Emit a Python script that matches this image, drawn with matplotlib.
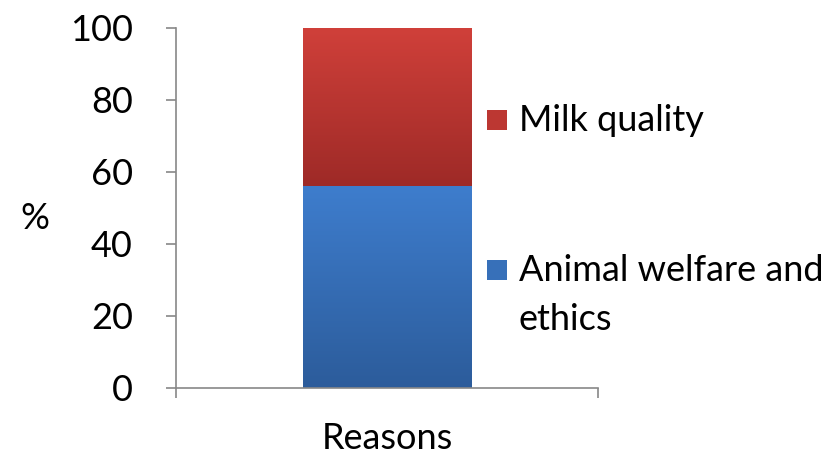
import matplotlib
matplotlib.use("Agg")
import matplotlib.pyplot as plt
import numpy as np
from matplotlib.colors import LinearSegmentedColormap
from matplotlib.patches import Rectangle

plt.rcParams["font.family"] = ["Lato", "DejaVu Sans"]

# data
categories = ["Reasons"]
series_names = ["Animal welfare and\nethics", "Milk quality"]
series_values = [[56], [44]]
# gradient colours (top, bottom) for each series
series_colours = [("#3e7dcd", "#2c5c9b"), ("#d0403a", "#9e2a27")]

fig = plt.figure(figsize=(8.36, 4.55), dpi=100)
ax = fig.add_axes([0.2105, 0.1473, 0.5048, 0.7912])

x = np.arange(len(categories))
bottom = np.zeros(len(categories))
cmaps = []
for vals, (top_c, bot_c) in zip(series_values, series_colours):
    bars = ax.bar(x, vals, width=0.4, bottom=bottom, color="none", linewidth=0)
    cmap = LinearSegmentedColormap.from_list("g", [bot_c, top_c])
    for bar in bars:
        x0, y0 = bar.get_x(), bar.get_y()
        w, h = bar.get_width(), bar.get_height()
        grad = np.linspace(0, 1, 256).reshape(-1, 1)
        im = ax.imshow(grad, cmap=cmap, origin="lower", aspect="auto",
                       extent=(x0, x0 + w, y0, y0 + h), zorder=2)
        im.set_clip_path(bar)
    bottom = bottom + np.array(vals)
    cmaps.append(cmap)

ax.set_xlim(-0.5, 0.5)
ax.set_ylim(0, 100)
ax.set_yticks(np.arange(0, 101, 20))
ax.set_xticks([-0.5, 0.5])
ax.set_xticklabels([])
ax.tick_params(axis="y", labelsize=26, length=7, width=1.2, color="#888888", pad=24)
ax.tick_params(axis="x", length=7, width=1.2, color="#888888")
for s in ["top", "right"]:
    ax.spines[s].set_visible(False)
for s in ["left", "bottom"]:
    ax.spines[s].set_color("#888888")
    ax.spines[s].set_linewidth(1.2)

# category label under the axis, and the "%" axis title
for i, cat in enumerate(categories):
    ax.text(x[i], -0.139, cat, transform=ax.get_xaxis_transform(),
            ha="center", va="center", fontsize=26)
ax.text(-0.335, 0.472, "%", transform=ax.transAxes, ha="center", va="center", fontsize=26)

# legend drawn by hand, top entry first
legend_y = [0.744, 0.328]
for (name, cmap), ly in zip(zip(series_names[::-1], cmaps[::-1]), legend_y):
    sq = Rectangle((0.737, ly - 0.028), 0.047, 0.056, transform=ax.transAxes,
                   clip_on=False, facecolor=cmap(0.6), edgecolor="none", zorder=3)
    ax.add_patch(sq)
    ax.text(0.812, ly + 0.045, name, transform=ax.transAxes, ha="left", va="top",
            fontsize=26, linespacing=1.62, zorder=3)

fig.savefig("out.png", dpi=100)
